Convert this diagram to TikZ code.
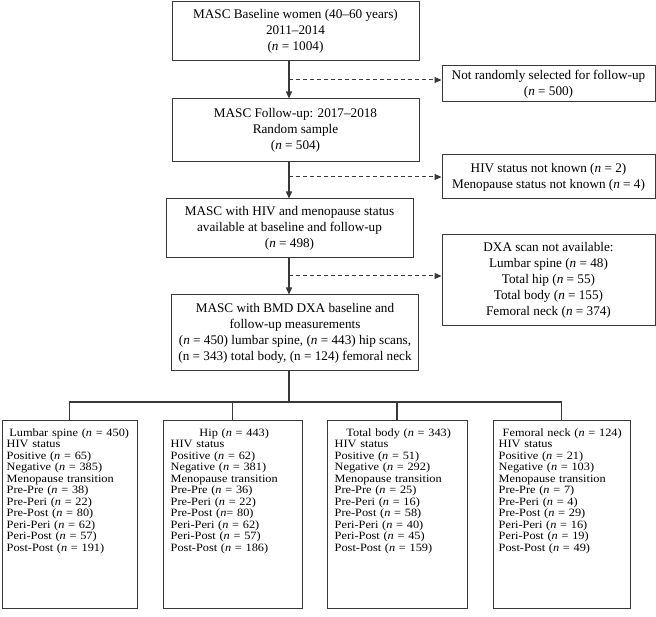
\documentclass[tikz,border=0pt]{standalone}
\usepackage{fontspec}
\setmainfont{Liberation Serif}
\newfontfamily\smallfont[FakeStretch=1.1]{Liberation Serif}
\usetikzlibrary{arrows.meta}
\definecolor{ln}{HTML}{383838}
\newcommand{\nn}{\textit{n}}
\begin{document}
\begin{tikzpicture}[x=1pt,y=-1pt,
  mainbox/.style={draw=ln, line width=1pt, minimum width=247pt, align=center,
    font=\fontsize{13.2}{16}\selectfont, inner sep=1pt},
  sidebox/.style={draw=ln, line width=1pt, minimum width=213pt, align=center,
    font=\fontsize{13.2}{16}\selectfont, inner sep=1pt},
  botbox/.style={draw=ln, line width=1pt, minimum height=187pt},
  bottext/.style={anchor=north west, align=left, inner sep=0pt, text width=#1,
    font={\smallfont\fontsize{11.2}{11.5}\selectfont}},
  flow/.style={draw=ln, line width=1.4pt, -{Triangle[length=7pt,width=6pt]}},
  sidearrow/.style={draw=ln, line width=1pt, dash pattern=on 4pt off 3pt,
    -{Triangle[length=7pt,width=6pt]}},
  tree/.style={draw=ln, line width=1.5pt, line join=miter}]
\useasboundingbox (0,0) rectangle (656,617);

% main column
\node[mainbox, minimum height=59pt] (b1) at (295.5,31.5)
  {MASC Baseline women (40–60 years)\\2011–2014\\(\nn{} = 1004)};
\node[mainbox, minimum height=63pt] (b2) at (295.5,130.5)
  {MASC Follow-up: 2017–2018\\Random sample\\(\nn{} = 504)};
\node[mainbox, minimum height=59pt] (b3) at (289.5,228.5)
  {MASC with HIV and menopause status\\available at baseline and follow-up\\(\nn{} = 498)};
\node[mainbox, minimum height=76pt] (b4) at (295,333)
  {MASC with BMD DXA baseline and\\follow-up measurements\\(\nn{} = 450) lumbar spine, (\nn{} = 443) hip scans,\\(n = 343) total body, (n = 124) femoral neck};

% side boxes
\node[sidebox, minimum height=36pt] (s1) at (548.5,84)
  {Not randomly selected for follow-up\\(\nn{} = 500)};
\node[sidebox, minimum height=44pt] (s2) at (548.5,177)
  {HIV status not known (\nn{} = 2)\\Menopause status not known (\nn{} = 4)};
\node[sidebox, minimum height=91pt] (s3) at (548.5,280.5)
  {DXA scan not available:\\Lumbar spine (\nn{} = 48)\\Total hip (\nn{} = 55)\\Total body (\nn{} = 155)\\Femoral neck (\nn{} = 374)};

% main arrows
\coordinate (ax) at (289,0);
\draw[flow] (b1.south -| ax) -- (b2.north -| ax);
\draw[flow] (b2.south -| ax) -- (b3.north -| ax);
\draw[flow] (b3.south -| ax) -- (b4.north -| ax);

% dashed side arrows
\coordinate (d1) at (289,80);
\coordinate (d2) at (289,177);
\coordinate (d3) at (289,276);
\draw[sidearrow] (d1) -- (d1 -| s1.west);
\draw[sidearrow] (d2) -- (d2 -| s2.west);
\draw[sidearrow] (d3) -- (d3 -| s3.west);

% bottom boxes
\node[botbox, minimum width=135pt] (lb) at (69.5,514.5) {};
\node[botbox, minimum width=139pt] (hb) at (232.5,514.5) {};
\node[botbox, minimum width=140pt] (tb) at (397,514.5) {};
\node[botbox, minimum width=137pt] (fb) at (561.5,514.5) {};

% tree connector
\coordinate (j) at (289,402);
\draw[tree] (b4.south -| ax) -- (j);
\draw[tree] (lb.north) -- (lb.north |- j) -- (fb.north |- j) -- (fb.north);
\draw[tree] (hb.north |- j) -- (hb.north);
\draw[tree] (tb.north |- j) -- (tb.north);

% bottom texts
\node[bottext=125pt] (lt) at ([xshift=5pt,yshift=-8pt]lb.north west)
  {\makebox[\linewidth]{Lumbar spine (\nn{} = 450)}\\HIV status\\Positive (\nn{} = 65)\\Negative (\nn{} = 385)\\Menopause transition\\Pre-Pre (\nn{} = 38)\\Pre-Peri (\nn{} = 22)\\Pre-Post (\nn{} = 80)\\Peri-Peri (\nn{} = 62)\\Peri-Post (\nn{} = 57)\\Post-Post (\nn{} = 191)};
\node[bottext=127pt] (ht) at ([xshift=8pt,yshift=-8pt]hb.north west)
  {\makebox[\linewidth]{Hip (\nn{} = 443)}\\HIV status\\Positive (\nn{} = 62)\\Negative (\nn{} = 381)\\Menopause transition\\Pre-Pre (\nn{} = 36)\\Pre-Peri (\nn{} = 22)\\Pre-Post (\nn{}= 80)\\Peri-Peri (\nn{} = 62)\\Peri-Post (\nn{} = 57)\\Post-Post (\nn{} = 186)};
\node[bottext=128pt] (tt) at ([xshift=8pt,yshift=-8pt]tb.north west)
  {\makebox[\linewidth]{Total body (\nn{} = 343)}\\HIV status\\Positive (\nn{} = 51)\\Negative (\nn{} = 292)\\Menopause transition\\Pre-Pre (\nn{} = 25)\\Pre-Peri (\nn{} = 16)\\Pre-Post (\nn{} = 58)\\Peri-Peri (\nn{} = 40)\\Peri-Post (\nn{} = 45)\\Post-Post (\nn{} = 159)};
\node[bottext=127pt] (ft) at ([xshift=6pt,yshift=-8pt]fb.north west)
  {\makebox[\linewidth]{Femoral neck (\nn{} = 124)}\\HIV status\\Positive (\nn{} = 21)\\Negative (\nn{} = 103)\\Menopause transition\\Pre-Pre (\nn{} = 7)\\Pre-Peri (\nn{} = 4)\\Pre-Post (\nn{} = 29)\\Peri-Peri (\nn{} = 16)\\Peri-Post (\nn{} = 19)\\Post-Post (\nn{} = 49)};
\end{tikzpicture}
\end{document}
